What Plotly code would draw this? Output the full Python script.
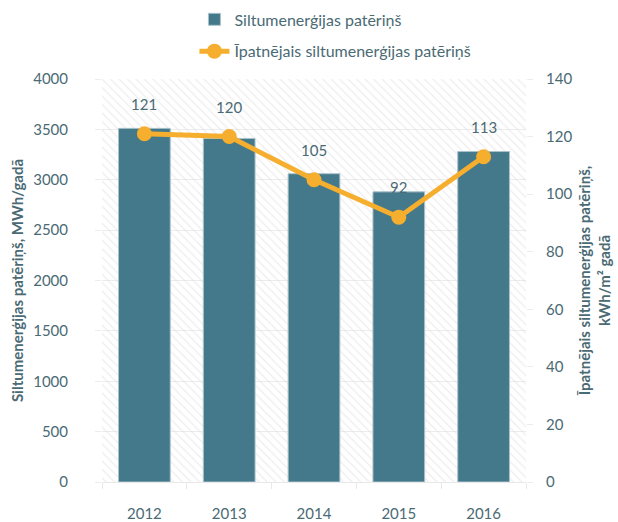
import plotly.graph_objects as go

years = ["2012", "2013", "2014", "2015", "2016"]
consumption = [3510, 3410, 3060, 2880, 3280]
specific = [121, 120, 105, 92, 113]

bar_name = "Siltumenerģijas patēriņš"
line_name = "Īpatnējais siltumenerģijas patēriņš"
left_title = "Siltumenerģijas patēriņš, MWh/gadā"
right_title = "Īpatnējais siltumenerģijas patēriņš,<br>kWh/m² gadā"

txt = "#4a6a74"
font_family = "Lato, 'Open Sans', sans-serif"

fig = go.Figure()

# hatched background of the plot area
fig.add_trace(go.Bar(
    x=years, y=[4000] * len(years), width=1,
    marker=dict(color="rgba(255,255,255,0)", line=dict(width=0),
                pattern=dict(shape="\\", fgcolor="#dcdcdc", size=6, solidity=0.2)),
    hoverinfo="skip", showlegend=False,
))

fig.add_trace(go.Bar(
    x=years, y=consumption, name=bar_name, width=0.61, legendgroup="a",
    marker=dict(color="#44798B", line=dict(color="#a9c3cc", width=1)),
))

fig.add_trace(go.Scatter(
    x=years, y=specific, name=line_name, yaxis="y2", mode="lines+markers",
    legendgroup="b",
    line=dict(color="#F5AE2D", width=5),
    marker=dict(color="#F5AE2D", size=15),
))

for i, v in enumerate(specific):
    fig.add_annotation(x=i, y=v, yref="y2", text=str(v), showarrow=False,
                       yshift=30, font=dict(size=15, color=txt, family=font_family))

fig.update_layout(
    width=618, height=522,
    margin=dict(l=102, r=92, t=79, b=40, autoexpand=False),
    paper_bgcolor="white", plot_bgcolor="white",
    barmode="overlay",
    font=dict(family=font_family, size=15, color=txt),
    legend=dict(orientation="v", x=0.218, y=1.19, xanchor="left", yanchor="top",
                font=dict(size=16, color=txt), traceorder="grouped", tracegroupgap=8,
                bgcolor="rgba(0,0,0,0)"),
    xaxis=dict(type="category", tickson="boundaries", ticks="outside", ticklen=6,
               tickcolor="#e8e8e8", showline=True, linecolor="#e8e8e8",
               range=[-0.5, len(years) - 0.5], ticklabelstandoff=18,
               showgrid=False, tickfont=dict(size=15, color=txt)),
    yaxis=dict(range=[0, 4000], dtick=500, ticks="outside", ticklen=6,
               tickcolor="#ececec", gridcolor="#ececec", zeroline=False,
               ticklabelstandoff=24,
               tickfont=dict(size=15, color=txt),
               title=dict(text=left_title, standoff=5,
                          font=dict(size=15, color=txt, family="Lato, sans-serif", weight="bold"))),
    yaxis2=dict(range=[0, 140], dtick=20, overlaying="y", side="right",
                ticks="outside", ticklen=6, tickcolor="#ececec", showgrid=False,
                zeroline=False, tickfont=dict(size=15, color=txt),
                ticklabelstandoff=10,
                title=dict(text=right_title, standoff=8,
                           font=dict(size=15, color=txt, family="Lato, sans-serif", weight="bold"))),
)

fig.write_html("out.html", config={"displayModeBar": False},
               post_script="document.body.style.margin='0';")
